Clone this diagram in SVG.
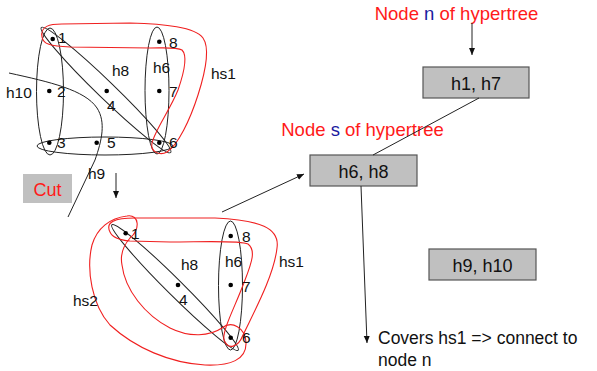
<svg xmlns="http://www.w3.org/2000/svg" width="597" height="371" viewBox="0 0 597 371">
<defs>
<style>
.t{font-family:"Liberation Sans",Arial,sans-serif;fill:#111}
.lbl{font-size:15.5px}
.big{font-size:18px}
.red{fill:#ff1a1a}
.blue{fill:#1a1aa0}
.e{fill:none;stroke:#222;stroke-width:1}
.r{fill:none;stroke:#f02020;stroke-width:1.1}
.dot{fill:#000}
.box{fill:#c0c0c0;stroke:#555;stroke-width:1.2}
.ln{fill:none;stroke:#222;stroke-width:1}
</style>
<marker id="ah" markerWidth="8" markerHeight="8" refX="7" refY="4" orient="auto" markerUnits="userSpaceOnUse">
<path d="M0,1 L7,4 L0,7 Z" fill="#111"/>
</marker>
</defs>
<rect width="597" height="371" fill="#fff"/>

<!-- Top hypergraph -->
<g id="hypergraph-top">
<ellipse class="e" cx="50" cy="91.5" rx="13.5" ry="63.5"/>
<ellipse class="e" cx="157" cy="90.5" rx="12" ry="63.5"/>
<ellipse class="e" cx="105" cy="146" rx="68" ry="9"/>
<ellipse class="e" cx="106" cy="90" rx="90" ry="8.5" transform="rotate(44 106 90)"/>
<path class="r" d="M42,37 C40,26 50,24 62,24 L130,23 C165,24 195,27 203,38 C210,48 206,70 198,95 C190,120 178,145 167,152 C160,156 150,152 152,143 C155,130 170,110 178,90 C185,70 187,55 182,50 C177,47 165,48 150,48 L70,47 C50,46 43,44 42,37 Z"/>
<path class="ln" d="M9,73 C50,82 85,90 97,108 C106,122 102,140 95,160 L68,217"/>
<circle class="dot" cx="52.7" cy="39" r="2.3"/>
<circle class="dot" cx="49.3" cy="91" r="2.3"/>
<circle class="dot" cx="49.3" cy="142.7" r="2.3"/>
<circle class="dot" cx="106.7" cy="91" r="2.3"/>
<circle class="dot" cx="96.7" cy="142.7" r="2.3"/>
<circle class="dot" cx="159.3" cy="142.7" r="2.3"/>
<circle class="dot" cx="159.3" cy="91" r="2.3"/>
<circle class="dot" cx="159.3" cy="41.7" r="2.3"/>
<text class="t lbl" x="58" y="43">1</text>
<text class="t lbl" x="57" y="97">2</text>
<text class="t lbl" x="57" y="148">3</text>
<text class="t lbl" x="107" y="111">4</text>
<text class="t lbl" x="107" y="148">5</text>
<text class="t lbl" x="169" y="148">6</text>
<text class="t lbl" x="169" y="97">7</text>
<text class="t lbl" x="169" y="48">8</text>
<text class="t lbl" x="112" y="76">h8</text>
<text class="t lbl" x="153" y="73">h6</text>
<text class="t lbl" x="6" y="98">h10</text>
<text class="t lbl" x="211" y="79">hs1</text>
<text class="t lbl" x="88" y="179">h9</text>
</g>

<g id="cut">
<rect x="23" y="174" width="49" height="29" fill="#c0c0c0"/>
<text class="t big red" x="47.5" y="196" text-anchor="middle">Cut</text>
</g>

<!-- Bottom hypergraph -->
<g id="hypergraph-bottom">
<ellipse class="e" cx="230.5" cy="285.5" rx="12" ry="64.5"/>
<ellipse class="e" cx="175" cy="287.5" rx="89" ry="8" transform="rotate(44.8 175 287.5)"/>
<path class="r" d="M110,232 C105,222 115,218 135,218 L215,218 C260,220 280,228 277,248 C274,275 255,310 243,335 C238,348 228,350 224,340 C222,330 236,305 245,280 C252,262 256,250 248,244 C240,240 200,242 170,242 L130,241 C118,240 112,237 110,232 Z"/>
<path class="r" d="M127,216 C140,214 140,230 130,238 C124,245 120,255 122,265 C125,290 145,315 170,328 C190,338 210,336 222,328 C232,320 245,328 246,342 C247,360 230,366 205,365 C170,363 135,348 110,325 C92,305 86,270 92,245 C97,228 110,218 127,216 Z"/>
<circle class="dot" cx="125.7" cy="233.3" r="2.3"/>
<circle class="dot" cx="178" cy="285" r="2.3"/>
<circle class="dot" cx="230.7" cy="236" r="2.3"/>
<circle class="dot" cx="230.7" cy="285" r="2.3"/>
<circle class="dot" cx="230.7" cy="337.7" r="2.3"/>
<text class="t lbl" x="131" y="239">1</text>
<text class="t lbl" x="179" y="305">4</text>
<text class="t lbl" x="242" y="242">8</text>
<text class="t lbl" x="242" y="292">7</text>
<text class="t lbl" x="242" y="343">6</text>
<text class="t lbl" x="181" y="270">h8</text>
<text class="t lbl" x="225" y="267">h6</text>
<text class="t lbl" x="279" y="267">hs1</text>
<text class="t lbl" x="73" y="306">hs2</text>
</g>

<!-- Hypertree -->
<g id="label-n">
<text class="t red" font-size="18.5" x="456.5" y="20" text-anchor="middle">Node <tspan class="blue">n</tspan> of hypertree</text>
</g>
<g id="node-h1h7">
<rect class="box" x="423" y="67" width="106" height="31"/>
<text class="t big" x="476" y="90" text-anchor="middle">h1, h7</text>
</g>
<g id="label-s">
<text class="t red" font-size="18.5" x="362.5" y="136" text-anchor="middle">Node <tspan class="blue">s</tspan> of hypertree</text>
</g>
<g id="node-h6h8">
<rect class="box" x="310" y="155" width="107" height="31"/>
<text class="t big" x="363.5" y="178" text-anchor="middle">h6, h8</text>
</g>
<g id="node-h9h10">
<rect class="box" x="429" y="249" width="107" height="31"/>
<text class="t big" x="482.5" y="272" text-anchor="middle">h9, h10</text>
</g>
<g id="label-covers">
<text class="t" font-size="17.5" x="378" y="344">Covers hs1 =&gt; connect to</text>
<text class="t" font-size="17.5" x="378" y="366">node n</text>
</g>

<g id="connectors">
<line class="ln" x1="472" y1="23" x2="472" y2="55" marker-end="url(#ah)"/>
<line class="ln" x1="479" y1="98" x2="373" y2="155"/>
<line class="ln" x1="361" y1="186" x2="367" y2="343" marker-end="url(#ah)"/>
<line class="ln" x1="116" y1="173" x2="116" y2="198" marker-end="url(#ah)"/>
<line class="ln" x1="222" y1="212" x2="304" y2="174" marker-end="url(#ah)"/>
</g>
</svg>
